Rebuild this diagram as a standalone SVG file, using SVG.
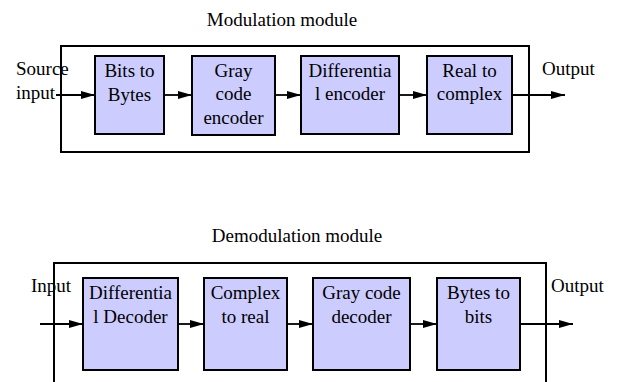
<svg xmlns="http://www.w3.org/2000/svg" width="619" height="382" viewBox="0 0 619 382">
<defs>
<style>
text{font-family:'Liberation Serif','Times New Roman',serif;font-size:19px;fill:#000}
.c{text-anchor:middle}
.box{fill:#ccccff;stroke:#000;stroke-width:2}
.frame{fill:none;stroke:#000;stroke-width:2}
.ar{stroke:#000;stroke-width:1.8;fill:none;marker-end:url(#ah)}
</style>
<marker id="ah" markerUnits="userSpaceOnUse" markerWidth="15" markerHeight="9" refX="14" refY="4.5" orient="auto">
<path d="M0,0.5 L14,4.5 L0,8.5 z" fill="#000"/>
</marker>
</defs>
<g id="modulation-module">
<rect class="frame" x="61" y="46" width="468" height="106"/>
<text class="c" x="282" y="26" font-family="Liberation Serif">Modulation module</text>
</g>
<g id="demodulation-module">
<path class="frame" d="M54,390 V263 H546 V390"/>
<text class="c" x="297" y="242" font-family="Liberation Serif">Demodulation module</text>
</g>
<g id="labels" font-family="Liberation Serif">
<text x="16" y="75" font-family="Liberation Serif">Source</text>
<text x="16" y="99" font-family="Liberation Serif">input</text>
<text x="542" y="75" font-family="Liberation Serif">Output</text>
<text x="31" y="292" font-family="Liberation Serif">Input</text>
<text x="551" y="292" font-family="Liberation Serif">Output</text>
</g>
<g id="bits-to-bytes">
<rect class="box" x="95" y="56" width="69" height="78"/>
<text class="c" x="129.5" y="77" font-family="Liberation Serif">Bits to</text>
<text class="c" x="129.5" y="101" font-family="Liberation Serif">Bytes</text>
</g>
<g id="gray-code-encoder">
<rect class="box" x="192" y="56" width="83" height="79"/>
<text class="c" x="233.5" y="77" font-family="Liberation Serif">Gray</text>
<text class="c" x="233.5" y="100" font-family="Liberation Serif">code</text>
<text class="c" x="233.5" y="124" font-family="Liberation Serif">encoder</text>
</g>
<g id="differential-encoder">
<rect class="box" x="301" y="56" width="98" height="78"/>
<text class="c" x="350" y="77" font-family="Liberation Serif">Differentia</text>
<text class="c" x="350" y="100" font-family="Liberation Serif">l encoder</text>
</g>
<g id="real-to-complex">
<rect class="box" x="427" y="56" width="85" height="78"/>
<text class="c" x="469.5" y="77" font-family="Liberation Serif">Real to</text>
<text class="c" x="469.5" y="100" font-family="Liberation Serif">complex</text>
</g>
<g id="differential-decoder">
<rect class="box" x="83" y="278" width="95" height="92"/>
<text class="c" x="130.5" y="299" font-family="Liberation Serif">Differentia</text>
<text class="c" x="130.5" y="323" font-family="Liberation Serif">l Decoder</text>
</g>
<g id="complex-to-real">
<rect class="box" x="204" y="278" width="83" height="92"/>
<text class="c" x="245.5" y="299" font-family="Liberation Serif">Complex</text>
<text class="c" x="245.5" y="323" font-family="Liberation Serif">to real</text>
</g>
<g id="gray-code-decoder">
<rect class="box" x="313" y="278" width="97" height="92"/>
<text class="c" x="361.5" y="299" font-family="Liberation Serif">Gray code</text>
<text class="c" x="361.5" y="323" font-family="Liberation Serif">decoder</text>
</g>
<g id="bytes-to-bits">
<rect class="box" x="437" y="278" width="83" height="92"/>
<text class="c" x="478.5" y="299" font-family="Liberation Serif">Bytes to</text>
<text class="c" x="478.5" y="323" font-family="Liberation Serif">bits</text>
</g>
<g id="connectors">
<line class="ar" x1="56" y1="95" x2="95" y2="95"/>
<line class="ar" x1="164" y1="95" x2="192" y2="95"/>
<line class="ar" x1="275" y1="95" x2="301" y2="95"/>
<line class="ar" x1="399" y1="95" x2="427" y2="95"/>
<line class="ar" x1="512" y1="95" x2="565" y2="95"/>
<line class="ar" x1="40" y1="324" x2="83" y2="324"/>
<line class="ar" x1="178" y1="324" x2="204" y2="324"/>
<line class="ar" x1="287" y1="324" x2="313" y2="324"/>
<line class="ar" x1="410" y1="324" x2="437" y2="324"/>
<line class="ar" x1="520" y1="324" x2="573" y2="324"/>
</g>
</svg>
